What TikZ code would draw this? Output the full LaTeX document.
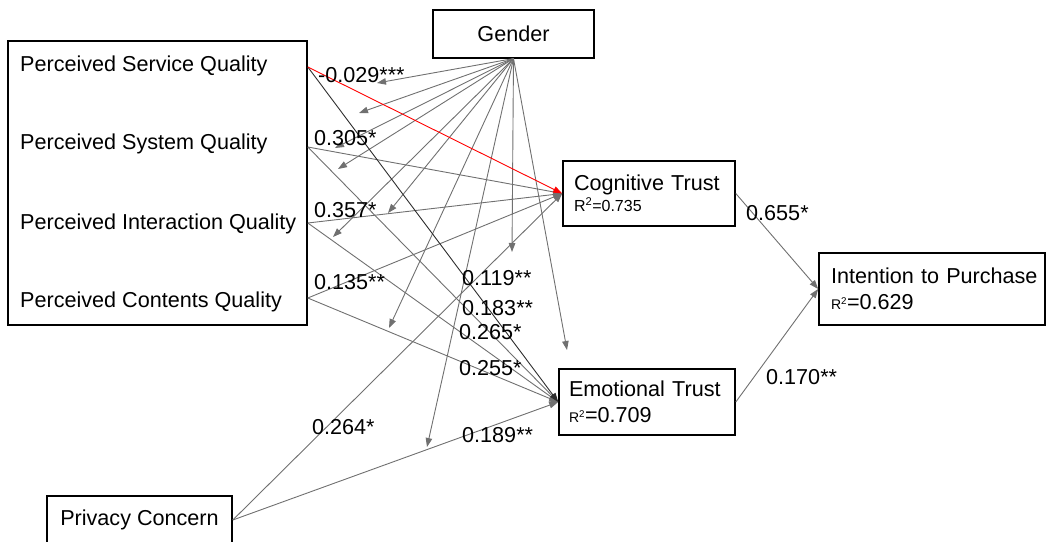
\documentclass[tikz,border=0pt]{standalone}
\usepackage{fontspec}
\setmainfont{Liberation Sans}
\usetikzlibrary{arrows.meta}
\definecolor{linegray}{RGB}{112,112,112}
\definecolor{darkline}{RGB}{45,45,45}
\newcommand\mainsize{\fontsize{21.6}{25}\selectfont}
\newcommand\rsize{\fontsize{14}{16}\selectfont}
\tikzset{
  box/.style={draw, line width=1.6pt, inner ysep=0pt, align=left, font=\mainsize},
  link/.style={draw=linegray, line width=0.9pt, -{Triangle[length=9pt,width=6.5pt]}},
  coef/.style={inner sep=0pt, anchor=west, font=\mainsize},
  item/.style={inner sep=0pt, anchor=west, font=\mainsize}
}
\begin{document}
\begin{tikzpicture}[x=1pt,y=-1pt]
\useasboundingbox (0,0) rectangle (1046,541);
% boxes
\node[box, minimum width=299pt, minimum height=284pt] (pq) at (157.5,183) {};
\node[item] (svc) at (20,66) {Perceived Service Quality};
\node[item] (sys) at (20,144) {Perceived System Quality};
\node[item] (int) at (20,224) {Perceived Interaction Quality};
\node[item] (cnt) at (20,302) {Perceived Contents Quality};
\node[box, line width=1.1pt, minimum width=161pt, minimum height=48pt, align=center] (gen) at (513.5,34) {Gender};
\node[box, inner xsep=11pt, text width=150pt, minimum height=65pt] (cog) at (649,193.5)
  {Cognitive Trust\\[-4pt]{\fontsize{16}{18}\selectfont R\textsuperscript{2}=0.735}};
\node[box, inner xsep=10pt, text width=156pt, minimum height=66pt] (emo) at (647,402)
  {Emotional Trust\\[1pt]{\rsize R\textsuperscript{2}}=0.709};
\node[box, inner xsep=12pt, text width=202pt, minimum height=72pt] (ipur) at (932,289)
  {\mbox{Intention to Purchase}\\[1pt]{\rsize R\textsuperscript{2}}=0.629};
\node[box, minimum width=185pt, minimum height=48pt, align=center] (priv) at (139.5,520) {Privacy Concern};
% start points on the big box
\coordinate (svcR) at (pq.east |- 0,67);
\coordinate (sysR) at (pq.east |- 0,147);
\coordinate (intR) at (pq.east |- 0,223);
\coordinate (cntR) at (pq.east |- 0,298);
% gender moderation
\foreach \i/\x/\y in {1/377/83, 2/359/113, 3/335/148, 4/338/169, 5/388/213,
                      6/333/237, 7/512/252, 8/389/328, 9/567/350, 10/427/447}
  \coordinate (m\i) at (\x,\y);
\foreach \i in {1,...,10}
  \draw[link] (gen.south) -- (m\i);
% paths
\foreach \s in {sysR, intR, cntR}
  {\draw[link] (\s) -- (cog.west);
   \draw[link] (\s) -- (emo.west);};
\draw[link] (priv.east) -- (cog.west);
\draw[link] (priv.east) -- (emo.west);
\draw[link, draw=darkline] (svcR) -- (emo.west);
\draw[link, draw=red] (svcR) -- (cog.west);
\draw[link] (cog.east) -- (ipur.west);
\draw[link] (emo.east) -- (ipur.west);
% coefficients
\node[coef] (c1) at (318,75) {-0.029***};
\node[coef] (c2) at (314,138) {0.305*};
\node[coef] (c3) at (314,210) {0.357*};
\node[coef] (c4) at (314,282) {0.135**};
\node[coef] (c5) at (462,278) {0.119**};
\node[coef] (c6) at (462,308) {0.183**};
\node[coef] (c7) at (459,332) {0.265*};
\node[coef] (c8) at (459,368) {0.255*};
\node[coef] (c9) at (312,427) {0.264*};
\node[coef] (c10) at (462,435) {0.189**};
\node[coef] (c11) at (746,213) {0.655*};
\node[coef] (c12) at (766,377) {0.170**};
\end{tikzpicture}
\end{document}
